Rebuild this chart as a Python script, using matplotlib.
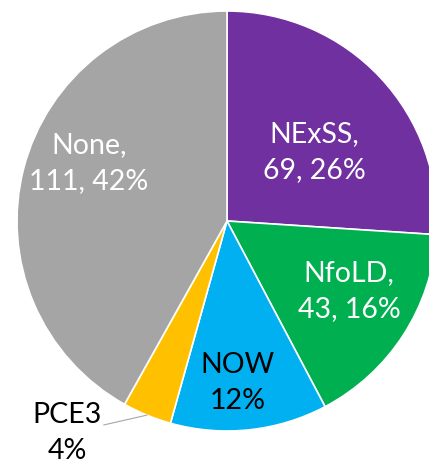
import numpy as np
import matplotlib
matplotlib.use("Agg")
import matplotlib.pyplot as plt

plt.rcParams['font.family'] = ['Lato', 'DejaVu Sans']

categories = ["NExSS", "NfoLD", "NOW", "PCE3", "None"]
values = [69, 43, 32, 10, 111]
percent_labels = ["26%", "16%", "12%", "4%", "42%"]
show_value = [True, True, False, False, True]
colors = ["#7030A0", "#00B050", "#00B0F0", "#FFC000", "#A5A5A5"]
text_colors = ["white", "white", "black", "black", "white"]
# label centre positions (data coords, pie radius = 1)
label_pos = [(0.414, 0.329), (0.581, -0.333), (0.052, -0.771), (-0.762, -1.010), (-0.657, 0.276)]

W, H = 429, 465
fig = plt.figure(figsize=(W / 100, H / 100), dpi=100)
cx, cy, R = 227, 221, 210
ax = fig.add_axes([(cx - R) / W, (H - cy - R) / H, 2 * R / W, 2 * R / H])

wedges, _ = ax.pie(values, colors=colors, startangle=90, counterclock=False,
                   wedgeprops=dict(edgecolor="white", linewidth=1.2), radius=1)
ax.set_xlim(-1, 1)
ax.set_ylim(-1, 1)
ax.set_aspect('equal')
ax.axis('off')

for i, (cat, val, pct) in enumerate(zip(categories, values, percent_labels)):
    if show_value[i]:
        txt = f"{cat},\n{val}, {pct}"
    else:
        txt = f"{cat}\n{pct}"
    x, y = label_pos[i]
    ax.text(x, y, txt, ha='center', va='center', fontsize=20.5, color=text_colors[i],
            linespacing=1.45, clip_on=False)

# leader line for PCE3
w = wedges[3]
ang = np.deg2rad((w.theta1 + w.theta2) / 2)
ax.plot([np.cos(ang), -0.586], [np.sin(ang), -0.971], color="#A6A6A6", lw=0.8, clip_on=False)

fig.savefig("out.png", dpi=100)
